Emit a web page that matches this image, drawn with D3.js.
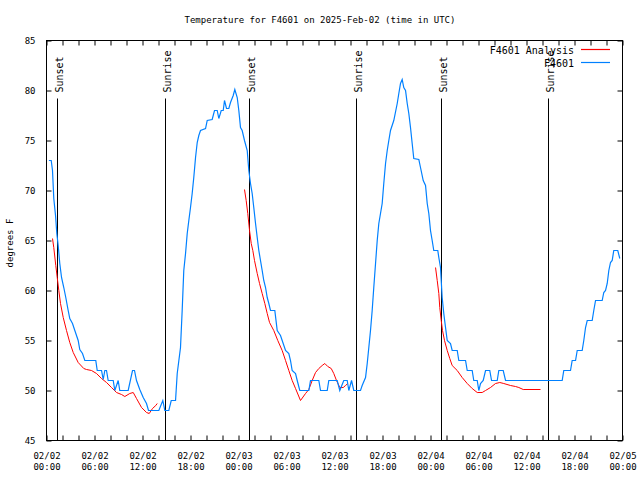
<!DOCTYPE html>
<html><head><meta charset="utf-8">
<script src="https://cdn.jsdelivr.net/npm/d3@7"></script>
<style>body{margin:0;background:#fff}svg{display:block}text{font-family:"DejaVu Sans Mono",monospace;font-size:9px;fill:#000}</style>
</head><body><svg id="c" width="640" height="480"></svg>
<script>
const title = "Temperature for F4601 on 2025-Feb-02 (time in UTC)";
const yLabel = "degrees F";
const seriesNames = ["F4601 Analysis", "F4601"];
const seriesColors = ["#ff0000", "#0080ff"];
const yTicks = [45, 50, 55, 60, 65, 70, 75, 80, 85];
// hours since 2025-02-02 00:00 UTC
const blueHours = [0.3,0.59,0.75,0.91,1.13,1.29,1.46,1.66,1.88,2.16,2.41,2.71,2.91,3.25,3.54,3.96,4.16,4.5,4.79,6.16,6.34,6.88,7.09,7.29,7.5,7.71,8.34,8.54,8.96,9.16,10.21,10.75,11.0,11.25,11.66,12.09,12.5,12.75,14.04,14.54,14.79,15.29,15.59,16.13,16.34,16.75,16.96,17.16,17.38,17.59,17.79,18.0,18.21,18.41,18.63,18.84,19.04,19.25,19.88,20.09,20.71,21.0,21.34,21.54,21.84,22.09,22.25,22.5,22.79,23.0,23.34,23.54,23.84,24.04,24.25,24.46,24.75,25.09,25.29,25.5,25.71,25.91,26.13,26.34,26.54,26.75,26.96,27.16,27.38,27.59,27.79,28.0,28.54,28.84,29.25,29.46,29.88,30.29,30.5,30.71,31.13,31.34,31.66,32.79,33.0,34.04,34.25,35.09,35.29,36.34,36.66,37.16,37.59,37.79,38.13,38.41,39.25,39.46,39.88,40.09,40.29,40.5,40.71,40.91,41.13,41.34,41.54,41.75,41.96,42.16,42.38,42.59,42.79,43.0,43.41,43.84,44.04,44.25,44.46,44.66,44.88,45.09,45.29,45.5,45.71,45.91,46.54,46.75,47.09,47.38,47.59,47.79,48.0,48.21,48.41,48.91,49.04,49.25,49.34,49.46,49.66,49.88,50.09,50.5,50.71,51.34,51.54,52.38,52.59,53.21,53.41,53.84,54.04,54.25,54.59,54.88,55.41,55.63,56.34,56.54,57.09,57.38,64.46,64.66,65.5,65.71,66.13,66.34,66.96,67.16,67.38,67.59,68.21,68.41,68.63,69.46,69.66,69.88,70.09,70.29,70.5,70.71,70.91,71.41,71.66];
const blueTemps = [73,73,72,69.2,67.5,65.7,64.5,62.7,61.3,60.3,59.3,58,57.2,56.7,56,55,54.1,53.7,53,53,52,52,51.1,52,52,51,51,50,51,50,50,52,52,51,50.1,49.3,48.7,48,48,49,48,48,49,49,51.7,54.3,58,62,63.7,65.7,67,68.3,69.7,71.3,73.3,74.8,75.5,76,76.2,77,77.1,78,78,77.2,78,78,79,78.2,78.2,78.8,79.5,80.1,79.3,78,76.3,76,75,74,72,70.7,69.7,68.3,66.7,65.3,64,63,62,61,60.3,59.3,58.7,58,58,56,55.5,55,54,53.7,53,52,51.7,51,50,50,51,51,50,50,51,51,50,51,51,50,51,50,50,50.5,51.3,52.7,54.3,56,58,60.3,62.7,65,66.7,67.7,68.7,70.7,72.7,74,75,76,77,78.7,79.7,80.7,81.1,80.3,80,78.7,77.7,76.3,74.7,73.2,73.1,72.3,71,70.5,68.7,67.7,66,65,64,64,63.3,62.3,61,59.3,57.7,56.3,55,54.7,54,54,53,53,52,52,51,51,50,50.7,51,52,52,51,51,52,52,51,51,52,52,53,53,54,54,55,56.3,57,57,58,59,59,59.8,60,60.7,62,62.8,63,64,64,63.2];
// analysis series, null = gap between runs
const redHours = [0.75,0.91,1.16,1.34,1.54,1.75,2.09,2.5,2.91,3.34,3.96,4.66,5.0,5.63,6.25,6.88,7.5,8.13,8.75,9.38,9.79,10.41,10.84,11.25,11.88,12.5,12.84,13.25,13.66,13.84,null,
  24.75,24.96,25.16,25.38,25.59,25.79,26.0,26.34,26.63,26.96,27.29,27.59,27.88,28.41,28.91,29.46,29.88,30.29,30.71,31.13,31.75,32.38,32.79,33.21,33.63,34.04,34.46,34.79,35.16,35.59,35.91,36.25,36.66,37.09,37.38,37.66,null,
  48.63,48.84,49.04,49.16,49.34,49.5,49.75,50.09,50.41,50.71,51.34,51.96,52.59,53.21,53.84,54.46,54.88,55.5,56.13,56.66,57.16,58.0,58.63,59.04,59.59,61.75];
const redTemps = [65.2,64.3,62.5,61.3,60,58.7,57.3,56,54.8,53.8,52.8,52.2,52.1,52,51.7,51.2,50.8,50.3,49.8,49.6,49.4,49.7,49.8,49.2,48.3,47.8,47.7,48.2,48.5,48.7,null,
  70.1,69,67.7,66,64.7,64,63,61.7,60.7,59.7,58.7,57.7,56.8,56,55,54,53,52,51,50.2,49,49.7,50.1,51,51.8,52.2,52.5,52.7,52.4,52.2,51.7,51,50.3,50.3,50.5,50.7,null,
  62.3,61,59.7,58.3,57,56,55,54,53.2,52.5,52,51.3,50.7,50.2,49.8,49.8,50,50.3,50.7,50.8,50.7,50.5,50.4,50.3,50.1,50.1];
const sunHours = [1.31, 14.8, 25.3, 38.7, 49.3, 62.7];
const sunLabels = ["Sunset", "Sunrise", "Sunset", "Sunrise", "Sunset", "Sunrise"];
const sunLineTop = 79.2;

const t0 = Date.UTC(2025, 1, 2);
const toDate = h => new Date(t0 + h * 3600e3);
const L = 46, R = 622, T = 40, B = 440;
const svg = d3.select("#c");
const x = d3.scaleUtc().domain([toDate(0), toDate(72)]).range([L + 0.5, R + 0.5]);
const y = d3.scaleLinear().domain([45, 85]).range([B + 0.5, T + 0.5]);

svg.append("text").attr("x", 320).attr("y", 23).attr("text-anchor", "middle").text(title);
svg.append("text").attr("transform", `translate(13,243) rotate(-90)`).attr("text-anchor", "middle").text(yLabel);

// axes
const fmtD = d3.utcFormat("%m/%d"), fmtH = d3.utcFormat("%H:%M");
const xb = svg.append("g").attr("transform", `translate(0,${B + 0.5})`)
  .call(d3.axisBottom(x).ticks(d3.utcHour.every(2)).tickSize(-5).tickPadding(10).tickFormat(d => d.getUTCHours() % 6 === 0 ? "x" : ""));
xb.select(".domain").remove();
xb.selectAll("text").each(function(d) {
  const t = d3.select(this);
  if (t.text() === "") return;
  t.text(null).attr("y", null).attr("dy", null);
  t.append("tspan").attr("x", 0).attr("y", 18).text(fmtD(d));
  t.append("tspan").attr("x", 0).attr("y", 29).text(fmtH(d));
});
xb.selectAll("text").style("font-family", "DejaVu Sans Mono").style("font-size", "9px");
const xt = svg.append("g").attr("transform", `translate(0,${T + 0.5})`)
  .call(d3.axisTop(x).ticks(d3.utcHour.every(2)).tickSize(-5).tickFormat(""));
xt.select(".domain").remove();
const yl = svg.append("g").attr("transform", `translate(${L + 0.5},0)`)
  .call(d3.axisLeft(y).tickValues(yTicks).tickSize(-5).tickPadding(11).tickFormat(d3.format("d")));
yl.select(".domain").remove();
yl.selectAll("text").style("font-family", "DejaVu Sans Mono").style("font-size", "9px");
const yr = svg.append("g").attr("transform", `translate(${R + 0.5},0)`)
  .call(d3.axisRight(y).tickValues(yTicks).tickSize(-5).tickFormat(""));
yr.select(".domain").remove();
svg.selectAll(".tick line").attr("stroke", "#000");
svg.append("rect").attr("x", L + 0.5).attr("y", T + 0.5).attr("width", R - L).attr("height", B - T)
  .attr("fill", "none").attr("stroke", "#000");

// sunrise / sunset
sunHours.forEach((h, i) => {
  const px = Math.round(x(toDate(h))) + 0.5;
  svg.append("line").attr("x1", px).attr("x2", px).attr("y1", y(sunLineTop)).attr("y2", B)
    .attr("stroke", "#000");
  svg.append("text").attr("transform", `translate(${px + 5},${y(sunLineTop) - 6}) rotate(-90)`)
    .style("font-size", "10px").text(sunLabels[i]);
});

// series
const redData = redHours.map((h, i) => h == null ? null : [toDate(h), redTemps[i]]);
const blueData = blueHours.map((h, i) => [toDate(h), blueTemps[i]]);
const line = d3.line().defined(d => d != null).x(d => x(d[0])).y(d => y(d[1]));
svg.append("path").attr("d", line(redData)).attr("fill", "none").attr("stroke", seriesColors[0]).attr("stroke-width", 1);
svg.append("path").attr("d", line(blueData)).attr("fill", "none").attr("stroke", seriesColors[1]).attr("stroke-width", 1.2);

// legend
seriesNames.forEach((n, i) => {
  const ly = 49.5 + i * 13;
  svg.append("text").attr("x", 574).attr("y", ly + 4.3).attr("text-anchor", "end")
    .style("font-size", "10px").text(n);
  svg.append("line").attr("x1", 581).attr("x2", 610).attr("y1", ly).attr("y2", ly)
    .attr("stroke", seriesColors[i]).attr("stroke-width", 1.2);
});
</script></body></html>
